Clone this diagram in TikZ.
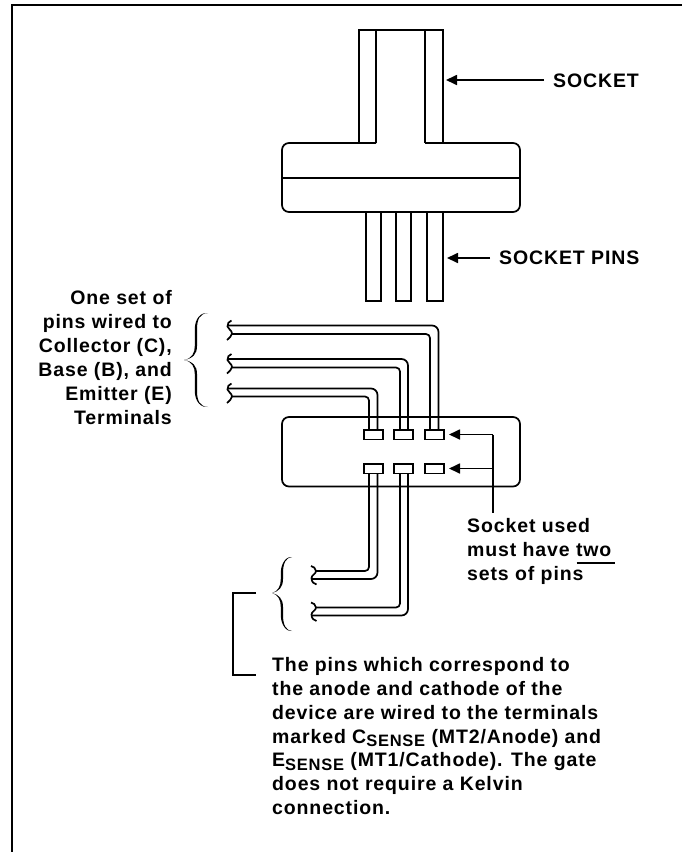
\documentclass[tikz,border=0pt]{standalone}
\usepackage{fontspec}
\setmainfont[LetterSpace=4.5]{Liberation Sans}
\usetikzlibrary{arrows.meta}
\tikzset{
 ln/.style={line width=1.7pt,black},
 arr/.style={line width=1.7pt,-{Triangle[length=11pt,width=10pt]}},
 lab/.style={inner sep=0pt,font=\bfseries\fontsize{19.5}{23.9}\selectfont},
}
\newcommand{\subsense}{\raisebox{-3.5pt}{\fontsize{16.5}{16.5}\selectfont SENSE}}
\newcommand{\wireH}[5]{% outerY innerY outerX innerX bottomY
  \draw[ln,rounded corners=6.5pt] (228,#1) -- (#3,#1) -- (#3,#5);
  \draw[ln,rounded corners=4pt] (232,#2) -- (#4,#2) -- (#4,#5);
  \draw[ln] (231.5,#1-5) .. controls (229,#1-4) and (227,#1-2) .. (227.5,#1+1)
            .. controls (228,#1+4) and (232,#1+4.5) .. (232,#1+8)
            .. controls (232,#1+10.5) and (229,#1+12.5) .. (227,#1+14.5);
}
\newcommand{\wireL}[5]{% innerY outerY innerX outerX topY
  \draw[ln,rounded corners=4pt] (#3,#5) -- (#3,#1) -- (316,#1);
  \draw[ln,rounded corners=6.5pt] (#4,#5) -- (#4,#2) -- (312,#2);
  \draw[ln] (311,#1-5) .. controls (313,#1-4.5) and (316,#1-3) .. (316,#1)
            .. controls (316,#1+3) and (311.5,#1+4) .. (311.5,#1+7)
            .. controls (311.5,#1+11) and (314,#1+13) .. (316.5,#1+13.5);
}
% tip x, spine x, end x, top y, mid y, bottom y
\newcommand{\curlyb}[6]{%
  \fill[black] (#3,#4)
    .. controls ({#2+3},#4+0.5) and (#2,#4+6) .. (#2,#4+16)
    -- (#2,#5-14)
    .. controls (#2,#5-6) and ({#2-4},#5-1.5) .. (#1,#5)
    .. controls ({#2-4},#5+1.5) and (#2,#5+6) .. (#2,#5+14)
    -- (#2,#6-16)
    .. controls (#2,#6-6) and ({#2+3},#6-0.5) .. (#3,#6)
    .. controls ({#2+4.5},#6+1) and ({#2-2.2},#6-5) .. ({#2-2.2},#6-16)
    -- ({#2-2.2},#5+14)
    .. controls ({#2-2.2},#5+7) and ({#2-5},#5+1.5) .. (#1,#5)
    .. controls ({#2-5},#5-1.5) and ({#2-2.2},#5-7) .. ({#2-2.2},#5-14)
    -- ({#2-2.2},#4+16)
    .. controls ({#2-2.2},#4+5) and ({#2+4.5},#4-1) .. (#3,#4)
    -- cycle;
}
\begin{document}
\begin{tikzpicture}[x=1pt,y=-1pt]
\useasboundingbox (0,0) rectangle (682,852);
% frame
\draw[line width=2.2pt] (682,5) -- (12,5) -- (12,852);
% socket
\draw[ln] (359,143) -- (359,30) -- (443,30) -- (443,143);
\draw[ln] (376,30) -- (376,143);
\draw[ln] (425,30) -- (425,143);
\draw[ln,rounded corners=7pt] (376,143) -- (282,143) -- (282,212) -- (520,212) -- (520,143) -- (425,143);
\draw[ln] (282,178) -- (520,178);
\foreach \a/\b in {366/381,396/411,427/443}
  \draw[ln] (\a,212) rectangle (\b,301);
\coordinate (sockTip) at (446,80);
\coordinate (sockTail) at (544,80);
\coordinate (pinTip) at (447,258);
\coordinate (pinTail) at (490,258);
\draw[arr] (sockTail) -- (sockTip);
\draw[arr] (pinTail) -- (pinTip);
\node[lab,anchor=west] (sk) at (553,81) {SOCKET};
\node[lab,anchor=west] (sp) at (499,258) {SOCKET PINS};
% lower box
\draw[ln,rounded corners=7pt] (282,417) rectangle (520,486.5);
% wires
\wireH{325.5}{334}{438.5}{430}{430}
\wireH{359}{367.5}{408}{400}{430}
\wireH{388.5}{396.5}{377.5}{369}{430}
\wireL{571}{579}{369}{377.5}{473}
\wireL{607.5}{615.5}{400}{408}{473}
% pads
\foreach \a/\n in {364/p1,394/p2,425/p3}{
  \draw[ln,fill=white] (\a,430) rectangle (\a+19,439.5);
  \draw[ln,fill=white] (\a,464) rectangle (\a+19,473.5);
}
% arrows to pads
\coordinate (corner) at (492.7,434.5);
\coordinate (rowB) at (492.7,468.5);
\coordinate (stem) at (492.7,512.5);
\draw[arr] (corner) -- (449,434.5);
\draw[arr] (rowB) -- (449,468.5);
\draw[ln] (corner) -- (stem);
% braces
\curlyb{184}{197}{208}{313}{360}{407}
\curlyb{272}{283}{292}{557}{593}{631}
% bracket
\draw[ln] (256,593) -- (233,593) -- (233,675) -- (256,675);
% labels
\node[lab,anchor=north east,align=right] (t1) at (172,290.5) {One set of\\pins wired to\\Collector (C),\\Base (B), and\\Emitter (E)\\Terminals};
\node[lab,anchor=north west,align=left] (t2) at (467,518) {Socket used\\must have two\\sets of pins};
\draw[ln] (576.5,563) -- (615,563);
\node[lab,anchor=north west,align=left] (t3) at (272,657) {The pins which correspond to\\the anode and cathode of the\\device are wired to the terminals\\marked C\subsense{} (MT2/Anode) and\\E\subsense{} (MT1/Cathode). The gate\\does not require a Kelvin\\connection.};
\end{tikzpicture}
\end{document}
